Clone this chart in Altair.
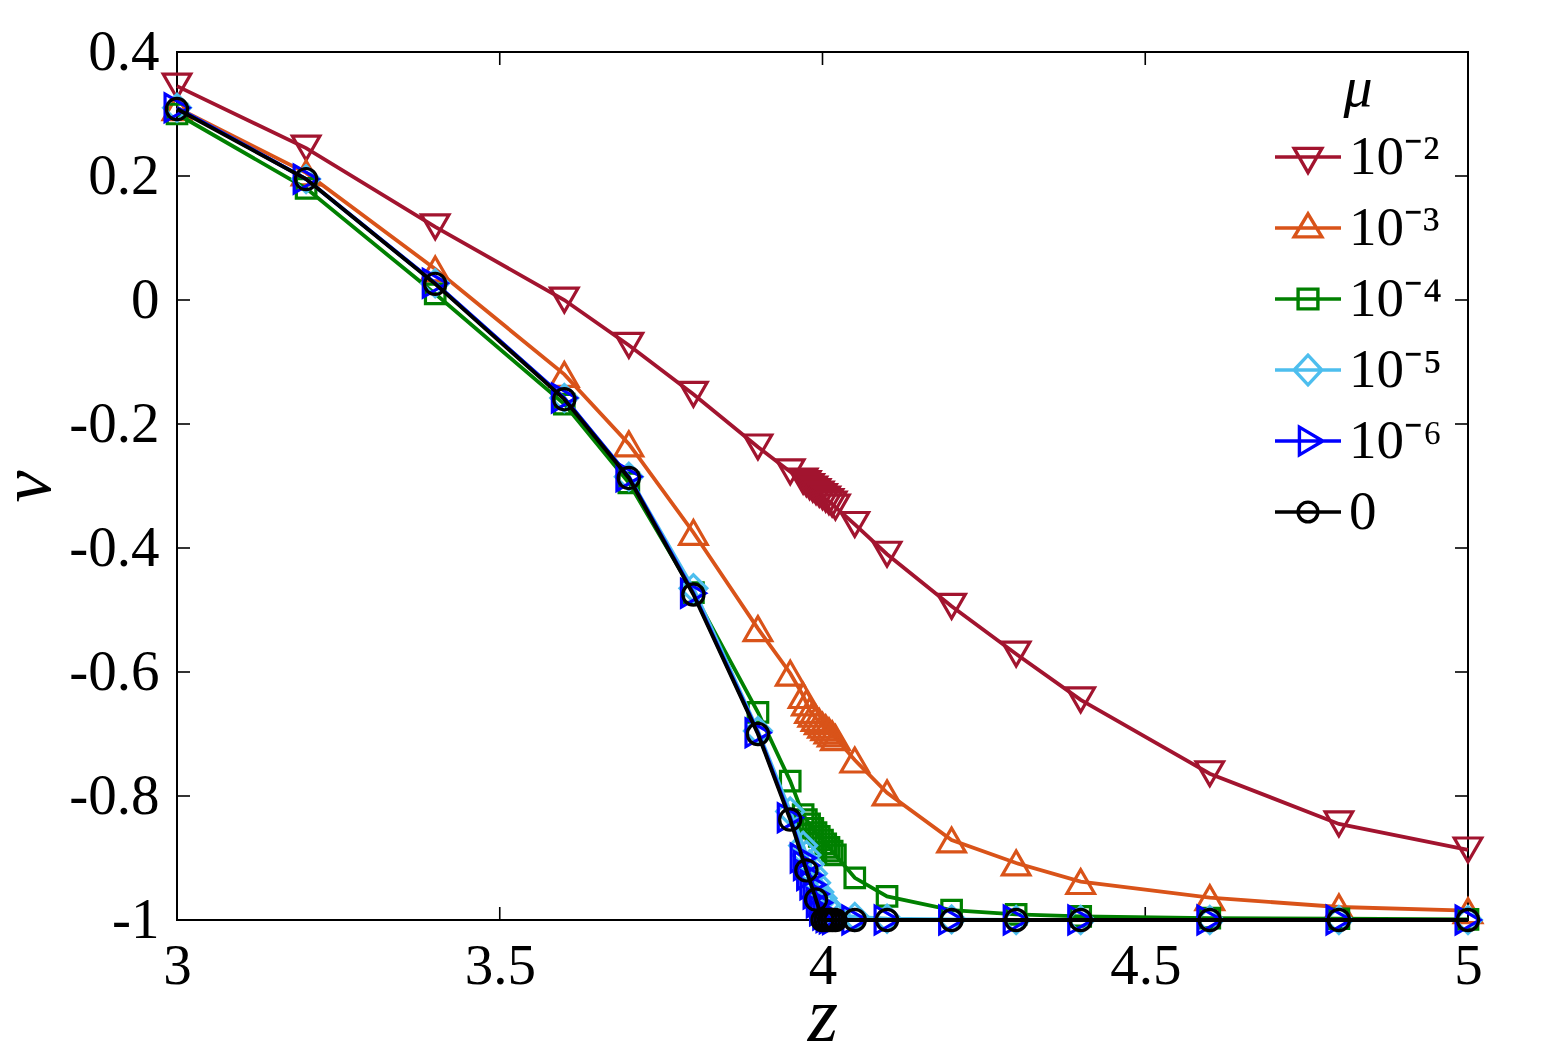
import altair as alt
import pandas as pd

# ---------------- data ----------------
z = [3.0, 3.2, 3.4, 3.6, 3.7, 3.8, 3.9, 3.95, 3.97, 3.975, 3.98, 3.985, 3.99, 3.995,
     4.0, 4.005, 4.01, 4.015, 4.02, 4.05, 4.1, 4.2, 4.3, 4.4, 4.6, 4.8, 5.0]
z_0 = [3.0, 3.2, 3.4, 3.6, 3.7, 3.8, 3.9, 3.95, 3.975, 3.99, 4.0, 4.005, 4.01, 4.015,
       4.02, 4.05, 4.1, 4.2, 4.3, 4.4, 4.6, 4.8, 5.0]

nu_1e2 = [0.345, 0.245, 0.118, 0.0, -0.073, -0.152, -0.237, -0.277, -0.292, -0.296, -0.301,
          -0.305, -0.309, -0.313, -0.317, -0.321, -0.325, -0.329, -0.334, -0.362, -0.41,
          -0.494, -0.571, -0.645, -0.764, -0.845, -0.887]
nu_1e3 = [0.31, 0.205, 0.05, -0.12, -0.232, -0.375, -0.53, -0.602, -0.638, -0.65, -0.662,
          -0.668, -0.675, -0.68, -0.686, -0.69, -0.695, -0.7, -0.706, -0.742, -0.795,
          -0.871, -0.908, -0.938, -0.964, -0.979, -0.985]
nu_1e4 = [0.3, 0.18, 0.01, -0.168, -0.295, -0.472, -0.665, -0.776, -0.83, -0.838, -0.845,
          -0.852, -0.859, -0.865, -0.871, -0.877, -0.883, -0.889, -0.895, -0.932, -0.962,
          -0.984, -0.991, -0.994, -0.997, -0.998, -0.999]
nu_1e5 = [0.31, 0.195, 0.027, -0.158, -0.285, -0.465, -0.695, -0.825, -0.88, -0.895, -0.91,
          -0.925, -0.94, -0.955, -0.965, -0.975, -0.982, -0.987, -0.99, -0.995, -0.998,
          -0.999, -1.0, -1.0, -1.0, -1.0, -1.0]
nu_1e6 = [0.31, 0.195, 0.027, -0.158, -0.285, -0.473, -0.698, -0.835, -0.9, -0.912, -0.928,
          -0.943, -0.958, -0.972, -0.985, -0.992, -0.996, -0.998, -0.999, -1.0, -1.0,
          -1.0, -1.0, -1.0, -1.0, -1.0, -1.0]
nu_0 = [0.308, 0.195, 0.026, -0.16, -0.287, -0.475, -0.7, -0.838, -0.92, -0.967, -1.0,
        -1.0, -1.0, -1.0, -1.0, -1.0, -1.0, -1.0, -1.0, -1.0, -1.0, -1.0, -1.0]

labels = ["10⁻²", "10⁻³", "10⁻⁴", "10⁻⁵", "10⁻⁶", "0"]
series = [nu_1e2, nu_1e3, nu_1e4, nu_1e5, nu_1e6, nu_0]
grids = [z, z, z, z, z, z_0]
colors = ["#A2142F", "#D95319", "#008000", "#4DBEEE", "#0000FF", "#000000"]
shapes = ["triangle-down", "triangle-up", "square", "diamond", "triangle-right", "circle"]
sizes = [760, 760, 380, 720, 760, 450]

legend_paths = [
    "M-1,0L1,0M-0.42,-0.26L0.42,-0.26L0,0.47Z",
    "M-1,0L1,0M-0.42,0.27L0.42,0.27L0,-0.43Z",
    "M-1,0L1,0M-0.3,-0.3L0.3,-0.3L0.3,0.3L-0.3,0.3Z",
    "M-1,0L1,0M-0.42,0L0,-0.45L0.42,0L0,0.45Z",
    "M-1,0L1,0M-0.26,-0.42L0.45,0L-0.26,0.42Z",
    "M-1,0L1,0M-0.3,0A0.3,0.3 0 1,0 0.3,0A0.3,0.3 0 1,0 -0.3,0",
]

x_ticks = [3, 3.5, 4, 4.5, 5]
y_ticks = [0.4, 0.2, 0, -0.2, -0.4, -0.6, -0.8, -1]

# ---------------- layout ----------------
W, H = 1291, 868
FONT = "Liberation Serif"
TICK = 13

rows = []
for lab, zs, vals in zip(labels, grids, series):
    for zz, vv in zip(zs, vals):
        rows.append({"z": zz, "nu": vv, "mu": lab})
df = pd.DataFrame(rows)

xs = alt.Scale(domain=[3, 5], nice=False, zero=False)
ys = alt.Scale(domain=[-1, 0.4], nice=False, zero=False)

X = alt.X("z:Q", scale=xs, axis=alt.Axis(
    values=x_ticks, title="z", labelExpr="toString(datum.value)", labelFlush=False,
    titleFontStyle="italic", titleX=W / 2, titleY=120, titleBaseline="alphabetic",
    titleFontSize=78, titleAlign="center"))
Y = alt.Y("nu:Q", scale=ys, axis=alt.Axis(
    values=y_ticks, title="ν", labelExpr="toString(datum.value)", labelFlush=False,
    titleFontStyle="italic", titleX=-128, titleY=H / 2, titleAngle=-90,
    titleFontSize=72, titleBaseline="alphabetic", titleAlign="center"))

layers = []
for lab, col, shp, sz in zip(labels, colors, shapes, sizes):
    sub = df[df["mu"] == lab]
    base = alt.Chart(sub)
    layers.append(base.mark_line(color=col, strokeWidth=3.8).encode(x=X, y=Y))
    layers.append(base.mark_point(shape=shp, filled=False, color=col, size=sz,
                                  strokeWidth=3.2, opacity=1).encode(x=X, y=Y))

legend_cfg = alt.Legend(
    orient="none", legendX=1096, legendY=8, title="μ",
    titleFont=FONT, titleFontSize=58, titleFontStyle="italic",
    titleFontWeight="normal", titleAnchor="middle", titleColor="black",
    titlePadding=4,
    labelFont=FONT, labelFontSize=55, labelColor="black",
    labelOffset=6, symbolSize=4356, symbolStrokeWidth=3.4, symbolOpacity=1,
    rowPadding=8, padding=0)

# legend layer (no visible marks; only drives the legend)
leg = alt.Chart(df).transform_filter("false").mark_point(filled=False, size=4356, opacity=1).encode(
    x=alt.X("z:Q", scale=xs),
    y=alt.Y("nu:Q", scale=ys),
    color=alt.Color("mu:N", scale=alt.Scale(domain=labels, range=colors), legend=legend_cfg),
    shape=alt.Shape("mu:N", scale=alt.Scale(domain=labels, range=legend_paths), legend=legend_cfg),
)

# inward ticks on all four sides
xt = pd.DataFrame({"t": x_ticks})
yt = pd.DataFrame({"t": y_ticks})
tick_style = dict(color="black", strokeWidth=1.6)
ticks = [
    alt.Chart(xt).mark_rule(**tick_style).encode(
        x=alt.X("t:Q", scale=xs), y=alt.value(H), y2=alt.value(H - TICK)),
    alt.Chart(xt).mark_rule(**tick_style).encode(
        x=alt.X("t:Q", scale=xs), y=alt.value(0), y2=alt.value(TICK)),
    alt.Chart(yt).mark_rule(**tick_style).encode(
        y=alt.Y("t:Q", scale=ys), x=alt.value(0), x2=alt.value(TICK)),
    alt.Chart(yt).mark_rule(**tick_style).encode(
        y=alt.Y("t:Q", scale=ys), x=alt.value(W), x2=alt.value(W - TICK)),
]

chart = alt.layer(*ticks, *layers, leg).properties(
    width=W, height=H,
    autosize=alt.AutoSizeParams(type="none"),
    padding={"left": 177, "top": 52, "right": 1546 - 177 - W, "bottom": 1061 - 52 - H},
    background="white",
).configure_view(
    stroke="black", strokeWidth=2
).configure_axis(
    domain=False, ticks=False, grid=False,
    labelFont=FONT, labelFontSize=57, labelColor="black",
    titleFont=FONT, titleFontSize=84, titleFontWeight="normal", titleColor="black",
    labelPadding=18,
)

chart.save("out.html", embed_options={"renderer": "svg", "actions": False})
